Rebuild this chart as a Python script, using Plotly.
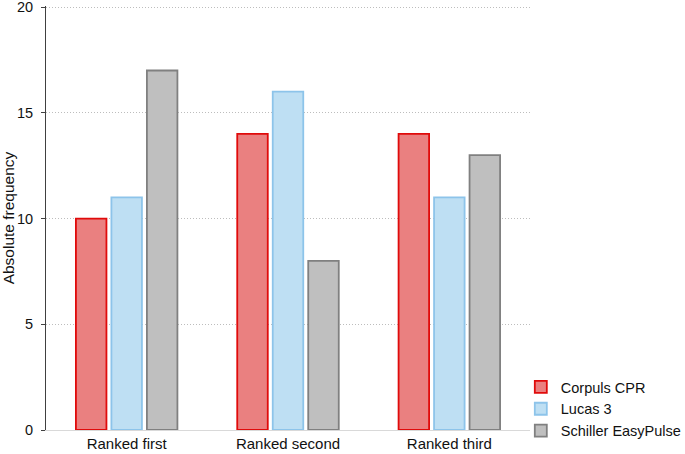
import plotly.graph_objects as go

categories = ["Ranked first", "Ranked second", "Ranked third"]
series_names = ["Corpuls CPR", "Lucas 3", "Schiller EasyPulse"]
corpuls = [10, 14, 14]
lucas = [11, 16, 11]
schiller = [17, 8, 13]
y_ticks = [0, 5, 10, 15, 20]

fills = ["#EA8080", "#BEDFF3", "#BFBFBF"]
borders = ["#E00B0B", "#8DC4EA", "#808080"]

fig = go.Figure()
for name, vals, fc, bc in zip(series_names, [corpuls, lucas, schiller], fills, borders):
    fig.add_trace(go.Bar(x=categories, y=vals, name=name,
                         marker=dict(color=fc, line=dict(color=bc, width=1.8))))

fig.update_layout(
    width=685, height=454,
    margin=dict(l=46, r=155, t=6, b=24, autoexpand=False),
    paper_bgcolor="white", plot_bgcolor="white",
    barmode="group", bargap=0.34, bargroupgap=0.14,
    font=dict(family="Liberation Sans, Arial, sans-serif", size=15, color="#111"),
    showlegend=True,
    legend=dict(x=0.981, y=-0.04, xanchor="left", yanchor="bottom",
                font=dict(size=14.5, color="#111"), tracegroupgap=0, itemwidth=30,
                bgcolor="rgba(0,0,0,0)"),
    xaxis=dict(showline=True, linecolor="#D9D9D9", linewidth=1, ticks="",
               showgrid=False, tickfont=dict(size=15), automargin=False),
    yaxis=dict(range=[0, 20.05], tickvals=y_ticks, showline=True, linecolor="#404040",
               linewidth=1, ticks="outside", ticklen=4, tickcolor="#404040",
               showgrid=True, gridcolor="#BDBDBD", griddash="1px,2px", gridwidth=1,
               zeroline=False, tickfont=dict(size=14.5), automargin=False,
               ticklabelstandoff=5, ticklabeloverflow="allow",
               title=dict(text="Absolute frequency", font=dict(size=15.5), standoff=4)),
)

fig.write_html("out.html", config={"displayModeBar": False},
               post_script="document.body.style.margin='0px';")
